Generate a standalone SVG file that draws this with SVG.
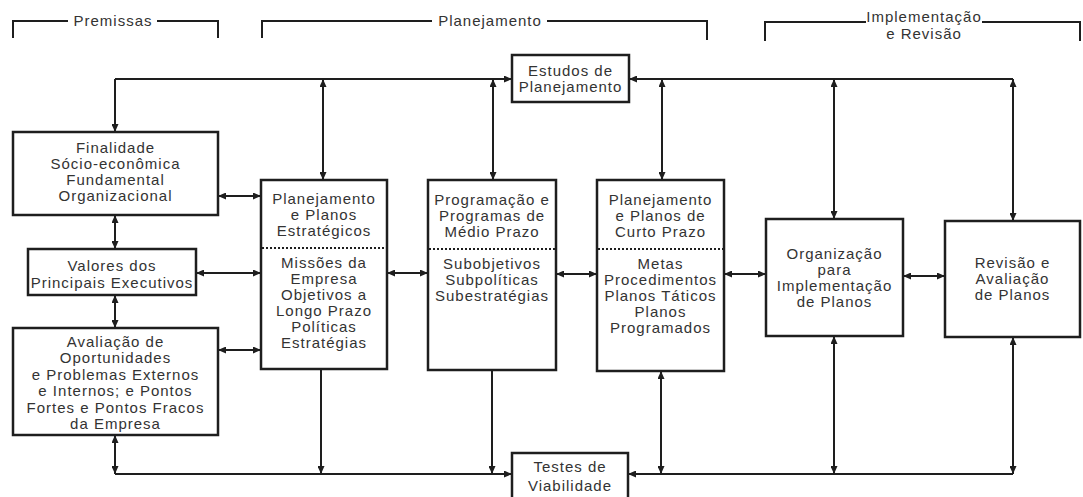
<svg xmlns="http://www.w3.org/2000/svg" width="1083" height="497" viewBox="0 0 1083 497">
  <defs>
    <marker id="ah" viewBox="0 0 8 7" refX="8" refY="3.5" markerWidth="8" markerHeight="7" markerUnits="userSpaceOnUse" orient="auto-start-reverse">
      <path d="M0,0 L8,3.5 L0,7 z" fill="#1e1e1e"/>
    </marker>
    <style>
      .box { fill: #ffffff; stroke: #1e1e1e; stroke-width: 2.5; }
      .sep { stroke: #1e1e1e; stroke-width: 2; stroke-dasharray: 2 2; fill: none; }
      .br { stroke: #1e1e1e; stroke-width: 2; fill: none; }
      .c { stroke: #1e1e1e; stroke-width: 2; fill: none; }
      .one { marker-end: url(#ah); }
      .two { marker-start: url(#ah); marker-end: url(#ah); }
      text { font-family: "Liberation Sans", Arial, sans-serif; font-size: 15px; letter-spacing: 1px; fill: #333333; text-anchor: middle; }
    </style>
  </defs>
  <rect width="1083" height="497" fill="#ffffff"/>

  <!-- phase headers -->
  <g id="hdr-premissas">
    <path class="br" d="M13,38 V21 H68 M157,21 H218 V38"/>
    <text x="113" y="26">Premissas</text>
  </g>
  <g id="hdr-planejamento">
    <path class="br" d="M262,38 V21 H432 M547,21 H707 V40"/>
    <text x="490" y="26">Planejamento</text>
  </g>
  <g id="hdr-implementacao">
    <path class="br" d="M765,41 V22 H866 M982,22 H1080 V41"/>
    <text x="924" y="22">Implementação</text>
    <text x="924" y="39">e Revisão</text>
  </g>

  <!-- connectors -->
  <g id="connectors">
    <path class="c one" d="M115,79 H512"/>
    <path class="c" d="M115,79 V104"/>
    <path class="c one" d="M115,104 V132"/>
    <path class="c one" d="M1013,79 H629"/>
    <path class="c two" d="M323,79 V180"/>
    <path class="c two" d="M493,79 V180"/>
    <path class="c two" d="M662,79 V180"/>
    <path class="c two" d="M834,79 V219"/>
    <path class="c two" d="M1013,79 V221"/>

    <path class="c two" d="M115,215 V249"/>
    <path class="c two" d="M115,295 V328"/>
    <path class="c two" d="M218,196 H261"/>
    <path class="c two" d="M196,273 H261"/>
    <path class="c two" d="M218,350 H261"/>

    <path class="c two" d="M387,273 H428"/>
    <path class="c two" d="M556,274 H597"/>
    <path class="c two" d="M724,274 H766"/>
    <path class="c two" d="M903,276 H945"/>

    <path class="c two" d="M115,435 V474"/>
    <path class="c one" d="M115,474 H512"/>
    <path class="c one" d="M321,369 V474"/>
    <path class="c one" d="M492,370 V474"/>
    <path class="c one" d="M1013,474 H628"/>
    <path class="c two" d="M661,371 V474"/>
    <path class="c two" d="M834,336 V474"/>
    <path class="c two" d="M1013,337 V474"/>
  </g>

  <!-- nodes -->
  <g id="estudos">
    <rect class="box" x="512" y="55" width="117" height="47"/>
    <text x="570.5" y="76">Estudos de</text>
    <text x="570.5" y="92">Planejamento</text>
  </g>

  <g id="finalidade">
    <rect class="box" x="13" y="132" width="205" height="83"/>
    <text x="115.5" y="153">Finalidade</text>
    <text x="115.5" y="169">Sócio-econômica</text>
    <text x="115.5" y="185">Fundamental</text>
    <text x="115.5" y="201">Organizacional</text>
  </g>

  <g id="valores">
    <rect class="box" x="28" y="249" width="168" height="46"/>
    <text x="112" y="271">Valores dos</text>
    <text x="112" y="288">Principais Executivos</text>
  </g>

  <g id="avaliacao">
    <rect class="box" x="13" y="328" width="205" height="107"/>
    <text x="115.5" y="347">Avaliação de</text>
    <text x="115.5" y="363">Oportunidades</text>
    <text x="115.5" y="380">e Problemas Externos</text>
    <text x="115.5" y="396">e Internos; e Pontos</text>
    <text x="115.5" y="413">Fortes e Pontos Fracos</text>
    <text x="115.5" y="429">da Empresa</text>
  </g>

  <g id="estrategico">
    <rect class="box" x="261" y="180" width="126" height="189"/>
    <line class="sep" x1="262" y1="248" x2="386" y2="248"/>
    <text x="324" y="204">Planejamento</text>
    <text x="324" y="220">e Planos</text>
    <text x="324" y="236">Estratégicos</text>
    <text x="324" y="268">Missões da</text>
    <text x="324" y="284">Empresa</text>
    <text x="324" y="300">Objetivos a</text>
    <text x="324" y="316">Longo Prazo</text>
    <text x="324" y="332">Políticas</text>
    <text x="324" y="348">Estratégias</text>
  </g>

  <g id="medio-prazo">
    <rect class="box" x="428" y="180" width="128" height="190"/>
    <line class="sep" x1="429" y1="249" x2="555" y2="249"/>
    <text x="492" y="205">Programação e</text>
    <text x="492" y="221">Programas de</text>
    <text x="492" y="237">Médio Prazo</text>
    <text x="492" y="269">Subobjetivos</text>
    <text x="492" y="285">Subpolíticas</text>
    <text x="492" y="301">Subestratégias</text>
  </g>

  <g id="curto-prazo">
    <rect class="box" x="597" y="180" width="127" height="191"/>
    <line class="sep" x1="598" y1="249" x2="723" y2="249"/>
    <text x="660.5" y="205">Planejamento</text>
    <text x="660.5" y="221">e Planos de</text>
    <text x="660.5" y="237">Curto Prazo</text>
    <text x="660.5" y="269">Metas</text>
    <text x="660.5" y="285">Procedimentos</text>
    <text x="660.5" y="301">Planos Táticos</text>
    <text x="660.5" y="317">Planos</text>
    <text x="660.5" y="333">Programados</text>
  </g>

  <g id="organizacao">
    <rect class="box" x="766" y="219" width="137" height="117"/>
    <text x="834.5" y="259">Organização</text>
    <text x="834.5" y="275">para</text>
    <text x="834.5" y="291">Implementação</text>
    <text x="834.5" y="307">de Planos</text>
  </g>

  <g id="revisao">
    <rect class="box" x="945" y="221" width="135" height="116"/>
    <text x="1012.5" y="268">Revisão e</text>
    <text x="1012.5" y="284">Avaliação</text>
    <text x="1012.5" y="300">de Planos</text>
  </g>

  <g id="testes">
    <rect class="box" x="512" y="453" width="116" height="47"/>
    <text x="570" y="472">Testes de</text>
    <text x="570" y="491">Viabilidade</text>
  </g>
</svg>
